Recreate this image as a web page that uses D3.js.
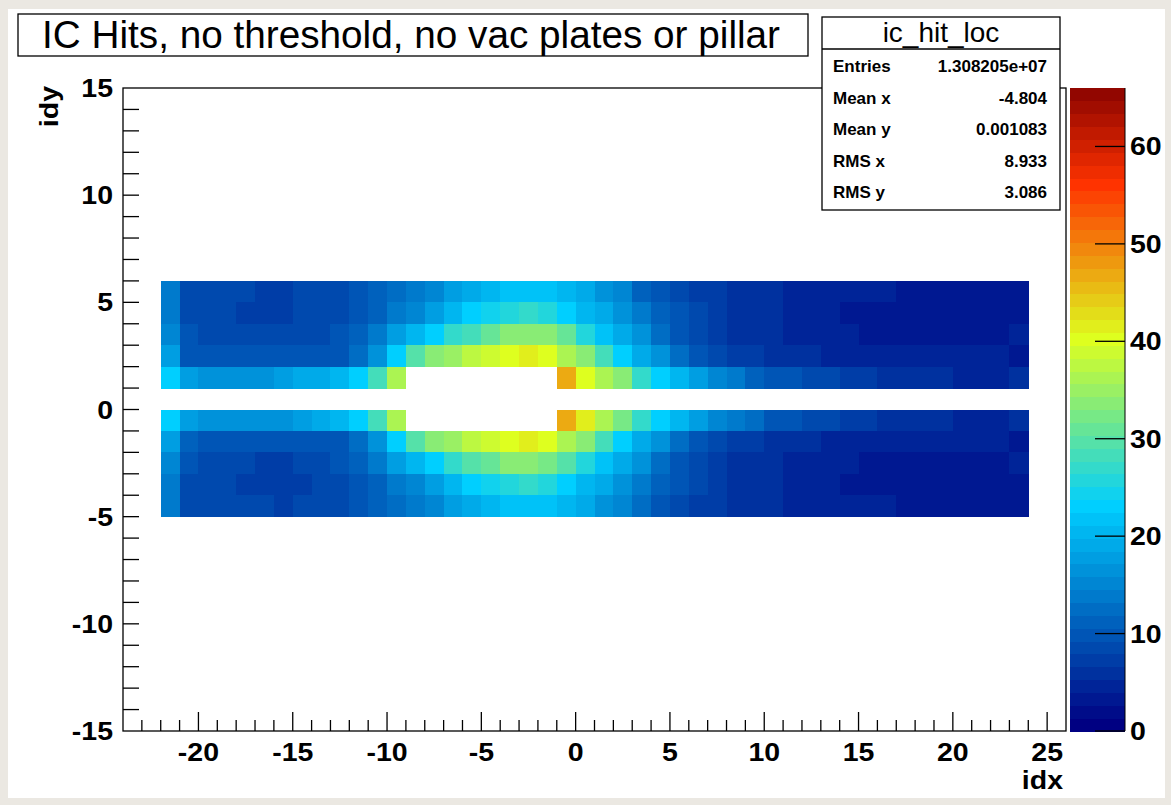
<!DOCTYPE html>
<html>
<head>
<meta charset="utf-8">
<script src="https://cdn.jsdelivr.net/npm/d3@7"></script>
<style>
  html, body { margin: 0; padding: 0; background: #ebe8e2; }
  svg { display: block; }
  text { font-family: "Liberation Sans", Arial, Helvetica, sans-serif; fill: #000; }
</style>
</head>
<body>
<svg id="chart" width="1171" height="805"></svg>
<script>
// --- dados (ic_hit_loc, COLZ) ---
const idxBins = [-22, -21, -20, -19, -18, -17, -16, -15, -14, -13, -12, -11, -10, -9, -8, -7, -6, -5, -4, -3, -2, -1,
                 0, 1, 2, 3, 4, 5, 6, 7, 8, 9, 10, 11, 12, 13, 14, 15, 16, 17, 18, 19, 20, 21, 22, 23];
const idyBins = [5, 4, 3, 2, 1, -1, -2, -3, -4, -5];

// cada linha: conteúdo do bin para idx = -22 .. 23 (null = bin vazio)
const hitsY5 = [14, 9, 8.5, 8.5, 8, 7.5, 7.5, 8, 8, 8.5, 10, 11, 12.5, 14, 15.5, 17.5, 19.5, 21, 22, 22, 21.5, 20,
                18.5, 16.5, 15, 11.5, 10.5, 9, 7.5, 7, 6.5, 6, 6, 5, 5, 4.5, 4.5, 4.5, 4.5, 3.5, 3.5, 3.5, 3.5, 3.5, 3.5, 3.5];
const hitsY4 = [14.5, 9, 8.5, 8, 7.5, 7, 7.5, 8, 8, 8.5, 9.5, 11, 13.5, 15.5, 18, 20.5, 22.5, 24.5, 26, 26.5, 25.5, 23.5,
                21, 18.5, 16, 14, 11.5, 10, 8.5, 7.5, 6.5, 5.5, 5.5, 5, 4.5, 4.5, 3.5, 3.5, 3.5, 3.5, 3, 3, 3, 3, 3, 3.5];
const hitsY3 = [15.5, 10, 9, 8.5, 8, 8, 8, 8.5, 9, 10, 11, 14, 17.5, 20, 22.5, 27, 29, 31, 33, 33.5, 33, 30.5,
                26, 22, 19.5, 16.5, 13, 10.5, 8.5, 7.5, 6.5, 6, 5.5, 5, 4.5, 4.5, 4.5, 3.5, 3.5, 3.5, 3.5, 3.5, 3.5, 3.5, 3.5, 4];
const hitsY2 = [17.5, 10.5, 10, 9.5, 9.5, 9.5, 9.5, 9.5, 9.5, 10, 12, 16.5, 22.5, 30, 33, 35, 37, 38.5, 40, 41, 40.5, 36.5,
                33, 28, 23, 19.5, 16, 13, 10.5, 9, 7.5, 7, 6.5, 6, 5.5, 5, 5, 4.5, 4.5, 4, 4, 4, 4, 4, 4, 3.5];
const hitsY1 = [23, 17.5, 17, 17, 17, 17, 17.5, 18.5, 19.5, 20.5, 22.5, 28, 36.5, null, null, null, null, null, null, null, null, 47,
                40.5, 36.5, 33, 27.5, 23, 20, 17.5, 15, 13.5, 11.5, 10.5, 10, 9, 8, 7.5, 7, 6.5, 6, 5.8, 5.5, 5.2, 5, 4.8, 5.5];
const hitsYm1 = [23, 17.5, 17, 16.5, 16.5, 17, 17, 18, 19, 20.5, 22.5, 28, 36, null, null, null, null, null, null, null, null, 47.5,
                 41, 36.5, 32.5, 27.5, 23, 20, 17.5, 15.5, 13.5, 12, 10.5, 10, 9, 8.5, 7.5, 7, 6.5, 6, 5.8, 5.5, 5.2, 5, 4.8, 5.5];
const hitsYm2 = [17.5, 11.5, 10.5, 10, 9.5, 9.5, 9.5, 9.5, 10, 10.5, 12, 16.5, 23, 30, 33, 35.5, 37.5, 38.5, 40, 41, 40.5, 36,
                 33, 28, 23, 19.5, 16, 13, 10.5, 9, 7.5, 7, 6.5, 6, 5.5, 5, 5, 4.5, 4.5, 4, 4, 4, 4, 4, 4, 3.5];
const hitsYm3 = [15.5, 10, 9, 8.5, 8, 7.5, 7.5, 8, 8.5, 9.5, 11, 14, 17.5, 20, 22.5, 27, 29.5, 31, 33, 33.5, 32.5, 30,
                 26, 22, 19.5, 16.5, 13, 10.5, 8.5, 7.5, 6.5, 6, 5.5, 5, 4.5, 4.5, 4, 3.5, 3.5, 3.5, 3.5, 3.5, 3.5, 3.5, 3.5, 4];
const hitsYm4 = [14.5, 9, 8.5, 8, 7.5, 7, 7, 7.5, 8, 8.5, 9.5, 11, 13.5, 15.5, 18, 20.5, 22.5, 24.5, 26, 26.5, 25.5, 23.5,
                 21, 18.5, 16, 13.5, 11.5, 10, 8.5, 7.5, 6.5, 5.5, 5.5, 5, 4.5, 4.5, 3.5, 3.5, 3.5, 3.5, 3, 3, 3, 3, 3, 3.5];
const hitsYm5 = [14, 9, 8.5, 8.5, 8, 8, 7.5, 8, 8, 8.5, 10, 11, 12.5, 14, 15.5, 17.5, 19.5, 21, 22, 22, 21.5, 20,
                 18.5, 16.5, 15, 12, 10.5, 9, 7.5, 7, 6.5, 6, 5.5, 5, 5, 4.5, 4.5, 4.5, 4, 3.5, 3.5, 3.5, 3.5, 3.5, 3.5, 3.5];

const hitRows = [hitsY5, hitsY4, hitsY3, hitsY2, hitsY1, hitsYm1, hitsYm2, hitsYm3, hitsYm4, hitsYm5];

const xMajorTicks = [-20, -15, -10, -5, 0, 5, 10, 15, 20, 25];
const yMajorTicks = [-15, -10, -5, 0, 5, 10, 15];
const zTicks = [0, 10, 20, 30, 40, 50, 60];

const titleText = "IC Hits, no threshold, no vac plates or pillar";
const statsName = "ic_hit_loc";
const statLabels = ["Entries", "Mean x", "Mean y", "RMS x", "RMS y"];
const statValues = ["1.308205e+07", "-4.804", "0.001083", "8.933", "3.086"];

const X_DOMAIN = [-24, 26];
const Y_DOMAIN = [-15, 15];
const Z_MAX = 66;

// --- paleta (gradiente de 50 cores, estilo ROOT) ---
const paletaStops = [0.00, 0.34, 0.61, 0.84, 1.00];
const paletaR = [0.00, 0.00, 0.87, 1.00, 0.51];
const paletaG = [0.00, 0.81, 1.00, 0.20, 0.00];
const paletaB = [0.51, 1.00, 0.12, 0.00, 0.00];
const N_CORES = 50;

function criarPaleta() {
  const cores = [];
  for (let g = 1; g < paletaStops.length; g++) {
    const n = Math.floor(N_CORES * paletaStops[g]) - Math.floor(N_CORES * paletaStops[g - 1]);
    for (let c = 0; c < n; c++) {
      const r = paletaR[g - 1] + c * (paletaR[g] - paletaR[g - 1]) / n;
      const gg = paletaG[g - 1] + c * (paletaG[g] - paletaG[g - 1]) / n;
      const b = paletaB[g - 1] + c * (paletaB[g] - paletaB[g - 1]) / n;
      cores.push(d3.rgb(r * 255, gg * 255, b * 255).formatHex());
    }
  }
  return cores;
}
const paleta = criarPaleta();
const corDe = z => paleta[Math.min(N_CORES - 1, Math.floor(0.01 + z * N_CORES / Z_MAX))];

// --- layout ---
const frame = { left: 123, right: 1066, top: 88, bottom: 731 };
const barra = { left: 1070, right: 1125 };
const ESTICA = 1.14; // fonte dos eixos levemente alargada, como no original

const svg = d3.select("#chart");

// fundo do canvas
svg.append("rect").attr("x", 8).attr("y", 9).attr("width", 1157).attr("height", 789).attr("fill", "#ffffff");

const x = d3.scaleLinear().domain(X_DOMAIN).range([frame.left, frame.right]);
const y = d3.scaleLinear().domain(Y_DOMAIN).range([frame.bottom, frame.top]);
const z = d3.scaleLinear().domain([0, Z_MAX]).range([frame.bottom, frame.top]);

// células
const celulas = [];
hitRows.forEach((linha, i) => {
  linha.forEach((v, j) => {
    if (v != null && v > 0) celulas.push({ ix: idxBins[j], iy: idyBins[i], v });
  });
});

svg.append("g").attr("class", "celulas")
  .attr("shape-rendering", "crispEdges")
  .selectAll("rect")
  .data(celulas)
  .join("rect")
  .attr("x", d => x(d.ix))
  .attr("y", d => y(d.iy + 1))
  .attr("width", d => x(d.ix + 1) - x(d.ix) + 0.5)
  .attr("height", d => y(d.iy) - y(d.iy + 1) + 0.5)
  .attr("fill", d => corDe(d.v));

// moldura
const eixos = svg.append("g").attr("stroke", "#000").attr("stroke-width", 1.3);
eixos.append("rect")
  .attr("x", frame.left).attr("y", frame.top)
  .attr("width", frame.right - frame.left).attr("height", frame.bottom - frame.top)
  .attr("fill", "none");

// ticks eixo x (para cima, a partir da base)
const xMinor = x.ticks(50).filter(t => t > X_DOMAIN[0] && t < X_DOMAIN[1]);
eixos.selectAll("line.xt")
  .data(xMinor)
  .join("line")
  .attr("class", "xt")
  .attr("x1", d => x(d)).attr("x2", d => x(d))
  .attr("y1", frame.bottom)
  .attr("y2", d => frame.bottom - (xMajorTicks.includes(d) ? 19 : 11));

// ticks eixo y
const yMinor = y.ticks(30).filter(t => t > Y_DOMAIN[0] && t < Y_DOMAIN[1]);
eixos.selectAll("line.yt")
  .data(yMinor)
  .join("line")
  .attr("class", "yt")
  .attr("x1", frame.left)
  .attr("x2", frame.left + 16)
  .attr("y1", d => y(d)).attr("y2", d => y(d));

// rótulos
const fonteEixo = "bold 25px 'Liberation Sans', Arial, sans-serif";
const estica = (px, py) => `translate(${px},${py}) scale(${ESTICA},1)`;

svg.append("g").selectAll("text")
  .data(xMajorTicks)
  .join("text")
  .attr("transform", d => estica(x(d), 761))
  .attr("text-anchor", "middle")
  .style("font", fonteEixo)
  .text(d => d);

svg.append("g").selectAll("text")
  .data(yMajorTicks)
  .join("text")
  .attr("transform", d => estica(113, y(d) + 9))
  .attr("text-anchor", "end")
  .style("font", fonteEixo)
  .text(d => d);

svg.append("text")
  .attr("transform", estica(1063, 789))
  .attr("text-anchor", "end")
  .style("font", fonteEixo)
  .text("idx");

svg.append("text")
  .attr("transform", `translate(58,86) rotate(-90) scale(${ESTICA},1)`)
  .attr("text-anchor", "end")
  .style("font", fonteEixo)
  .text("idy");

// barra de cores
const passo = Z_MAX / N_CORES;
svg.append("g").attr("shape-rendering", "crispEdges")
  .selectAll("rect")
  .data(paleta)
  .join("rect")
  .attr("x", barra.left)
  .attr("width", barra.right - barra.left)
  .attr("y", (d, i) => z((i + 1) * passo))
  .attr("height", (d, i) => z(i * passo) - z((i + 1) * passo) + 0.6)
  .attr("fill", d => d);

svg.append("line")
  .attr("x1", barra.right).attr("x2", barra.right)
  .attr("y1", frame.top).attr("y2", frame.bottom)
  .attr("stroke", "#000").attr("stroke-width", 1);

svg.append("g").selectAll("line")
  .data(zTicks)
  .join("line")
  .attr("x1", barra.right - 30).attr("x2", barra.right)
  .attr("y1", d => z(d)).attr("y2", d => z(d))
  .attr("stroke", "#000").attr("stroke-width", 1.3);

svg.append("g").selectAll("text")
  .data(zTicks)
  .join("text")
  .attr("transform", d => estica(barra.right + 5, z(d) + 9))
  .style("font", fonteEixo)
  .text(d => d);

// título
svg.append("rect")
  .attr("x", 18).attr("y", 14).attr("width", 790).attr("height", 42)
  .attr("fill", "#fff").attr("stroke", "#000").attr("stroke-width", 1.3);
svg.append("text")
  .attr("x", 411).attr("y", 48)
  .attr("text-anchor", "middle")
  .attr("textLength", 738).attr("lengthAdjust", "spacingAndGlyphs")
  .style("font", "38px 'Liberation Sans', Arial, sans-serif")
  .text(titleText);

// caixa de estatísticas
const stats = { left: 822, right: 1060, top: 17, bottom: 210, sep: 49 };
svg.append("rect")
  .attr("x", stats.left).attr("y", stats.top)
  .attr("width", stats.right - stats.left).attr("height", stats.bottom - stats.top)
  .attr("fill", "#fff").attr("stroke", "#000").attr("stroke-width", 1.3);
svg.append("line")
  .attr("x1", stats.left).attr("x2", stats.right)
  .attr("y1", stats.sep).attr("y2", stats.sep)
  .attr("stroke", "#000").attr("stroke-width", 1.3);
svg.append("text")
  .attr("x", (stats.left + stats.right) / 2).attr("y", 42)
  .attr("text-anchor", "middle")
  .style("font", "28px 'Liberation Sans', Arial, sans-serif")
  .text(statsName);

const linhaY = d3.scaleLinear().domain([0, statLabels.length - 1]).range([72, 198]);
const statsG = svg.append("g").style("font", "bold 17px 'Liberation Sans', Arial, sans-serif");
statsG.selectAll("text.lab")
  .data(statLabels)
  .join("text")
  .attr("class", "lab")
  .attr("x", stats.left + 11)
  .attr("y", (d, i) => linhaY(i))
  .text(d => d);
statsG.selectAll("text.val")
  .data(statValues)
  .join("text")
  .attr("class", "val")
  .attr("x", stats.right - 13)
  .attr("y", (d, i) => linhaY(i))
  .attr("text-anchor", "end")
  .text(d => d);
</script>
</body>
</html>
